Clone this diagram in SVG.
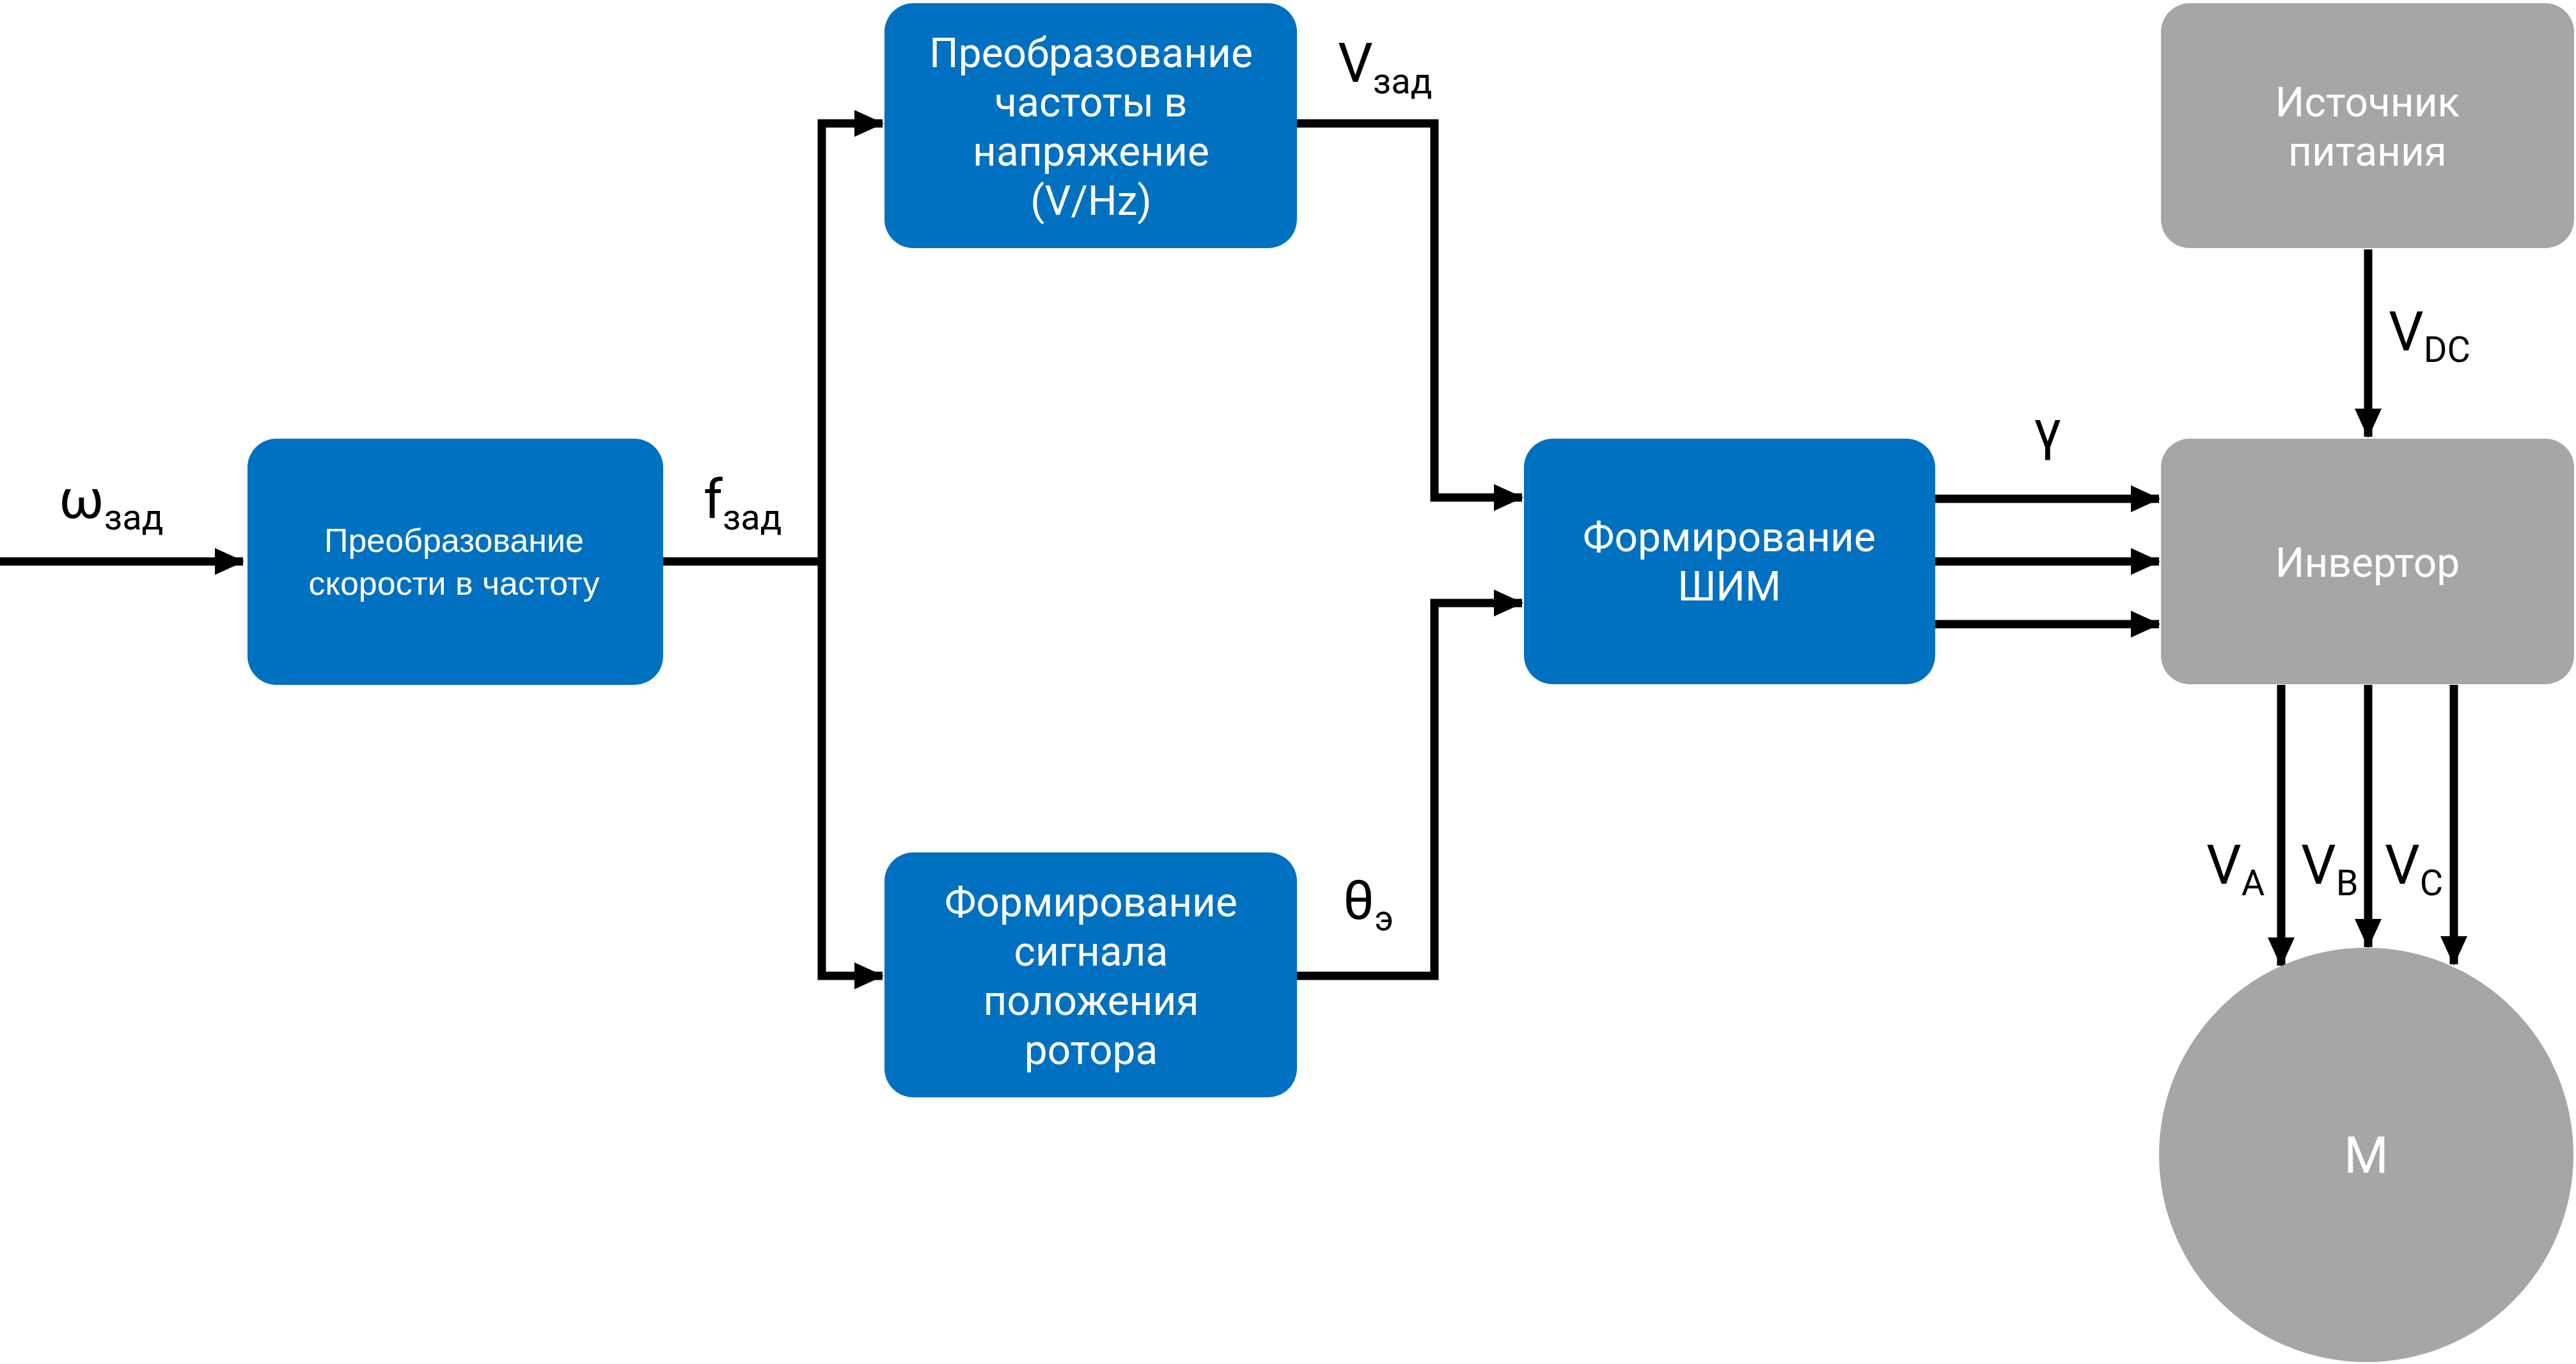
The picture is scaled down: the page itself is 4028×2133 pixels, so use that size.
<svg xmlns="http://www.w3.org/2000/svg" width="4028" height="2133" viewBox="0 0 4028 2133">
<style>
.b{fill:#0070c0}.g{fill:#a6a6a6}
.t{font-family:Roboto,"Noto Sans",sans-serif;font-size:64px;fill:#fff;text-anchor:middle}
.s{font-family:"Liberation Sans",Arial,sans-serif;font-size:52px;fill:#fff;text-anchor:middle}
.l{font-family:Roboto,"Noto Sans",sans-serif;font-size:86px;fill:#000}
.sub{font-size:56px}
.c{fill:none;stroke:#000;stroke-width:13;marker-end:url(#a)}
</style>
<defs><marker id="a" markerUnits="userSpaceOnUse" markerWidth="46" markerHeight="42" refX="44" refY="21" orient="auto"><path d="M0,0L46,21L0,42Z" fill="#000"/></marker></defs>
<g id="connectors">
<path class="c" d="M0,878H380"/>
<path d="M1037,878H1285" fill="none" stroke="#000" stroke-width="13"/>
<path class="c" d="M1285,878V193H1380"/>
<path class="c" d="M1285,878V1526H1380"/>
<path class="c" d="M2028,193H2243V778H2380"/>
<path class="c" d="M2028,1526H2243V943H2380"/>
<path class="c" d="M3026,780H3376"/>
<path class="c" d="M3026,878H3376"/>
<path class="c" d="M3026,976H3376"/>
<path class="c" d="M3703,390V683"/>
<path class="c" d="M3567,1071V1510"/>
<path class="c" d="M3703,1071V1481"/>
<path class="c" d="M3837,1071V1508"/>
</g>
<g id="speed"><rect class="b" x="387" y="686" width="650" height="385" rx="45"/><text class="s" x="710" y="863">Преобразование</text><text class="s" x="710" y="930">скорости в частоту</text></g>
<g id="vhz"><rect class="b" x="1383" y="5" width="645" height="383" rx="45"/><text class="t" x="1706" y="105">Преобразование</text><text class="t" x="1706" y="182">частоты в</text><text class="t" x="1706" y="259">напряжение</text><text class="t" x="1706" y="336">(V/Hz)</text></g>
<g id="rotor"><rect class="b" x="1383" y="1333" width="645" height="383" rx="45"/><text class="t" x="1706" y="1433">Формирование</text><text class="t" x="1706" y="1510">сигнала</text><text class="t" x="1706" y="1587">положения</text><text class="t" x="1706" y="1664">ротора</text></g>
<g id="pwm"><rect class="b" x="2383" y="686" width="643" height="384" rx="45"/><text class="t" x="2704" y="862">Формирование</text><text class="t" x="2704" y="939">ШИМ</text></g>
<g id="source"><rect class="g" x="3379" y="5" width="646" height="383" rx="45"/><text class="t" x="3702" y="182">Источник</text><text class="t" x="3702" y="259">питания</text></g>
<g id="inverter"><rect class="g" x="3379" y="686" width="646" height="384" rx="45"/><text class="t" x="3702" y="902">Инвертор</text></g>
<g id="motor"><circle class="g" cx="3700" cy="1806" r="324"/><text class="t" x="3700" y="1834" style="font-size:80px">M</text></g>
<g id="labels">
<text class="l" x="92" y="810">ω<tspan class="sub" dy="18">зад</tspan></text>
<text class="l" x="1100" y="810">f<tspan class="sub" dy="18">зад</tspan></text>
<text class="l" x="2092" y="128">V<tspan class="sub" dy="18">зад</tspan></text>
<text class="l" x="3180" y="702">γ</text>
<text class="l" x="3735" y="548">V<tspan class="sub" dy="18">DC</tspan></text>
<text class="l" x="2100" y="1437">θ<tspan class="sub" dy="18">э</tspan></text>
<text class="l" x="3450" y="1382">V<tspan class="sub" dy="18">A</tspan></text>
<text class="l" x="3598" y="1382">V<tspan class="sub" dy="18">B</tspan></text>
<text class="l" x="3729" y="1382">V<tspan class="sub" dy="18">C</tspan></text>
</g>
</svg>
